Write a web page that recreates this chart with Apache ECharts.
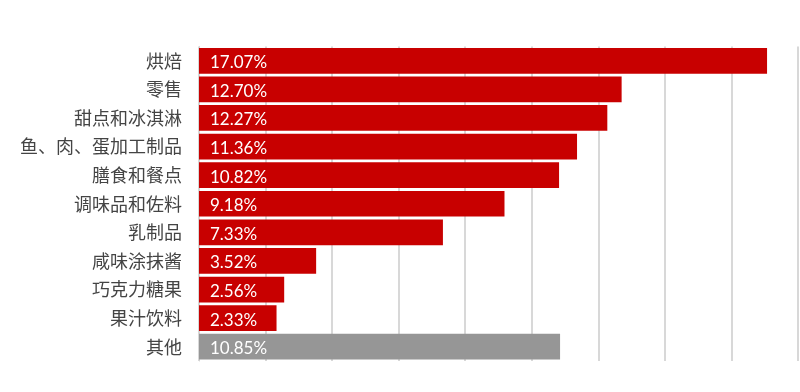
<!DOCTYPE html>
<html><head><meta charset="utf-8">
<script src="https://cdn.jsdelivr.net/npm/echarts@6/dist/echarts.min.js"></script>
<style>html,body{margin:0;padding:0;background:#fff}#c{width:800px;height:392px}</style>
</head><body><div id="c"></div>
<script>
const categories = ['烘焙','零售','甜点和冰淇淋','鱼、肉、蛋加工制品','膳食和餐点','调味品和佐料','乳制品','咸味涂抹酱','巧克力糖果','果汁饮料','其他'];
const values = [17.07, 12.70, 12.27, 11.36, 10.82, 9.18, 7.33, 3.52, 2.56, 2.33, 10.85];
const barColors = ['#c80000','#c80000','#c80000','#c80000','#c80000','#c80000','#c80000','#c80000','#c80000','#c80000','#969696'];

const chart = echarts.init(document.getElementById('c'));
chart.setOption({
  animation: false,
  grid: {left: 199, right: 2, top: 46.5, bottom: 31, containLabel: false},
  xAxis: {
    type: 'value', min: 0, max: 18, interval: 2,
    axisLabel: {show: false}, axisTick: {show: false}, axisLine: {show: false},
    splitLine: {show: true, lineStyle: {color: '#cbcbcb', width: 1.5}}
  },
  yAxis: {
    type: 'category', data: categories, inverse: true,
    axisTick: {show: false},
    axisLine: {show: true, lineStyle: {color: '#d4d4d4', width: 1}},
    axisLabel: {margin: 17, fontSize: 18, color: '#444', fontFamily: 'Noto Sans CJK SC'}
  },
  series: [{
    type: 'bar', barCategoryGap: '10%',
    data: values.map((v, i) => ({value: v, itemStyle: {color: barColors[i]}})),
    label: {
      show: true, position: 'insideLeft', offset: [6, 2],
      color: '#fff', fontSize: 17, fontFamily: 'Lato',
      formatter: p => p.value.toFixed(2) + '%'
    }
  }]
});
</script></body></html>
